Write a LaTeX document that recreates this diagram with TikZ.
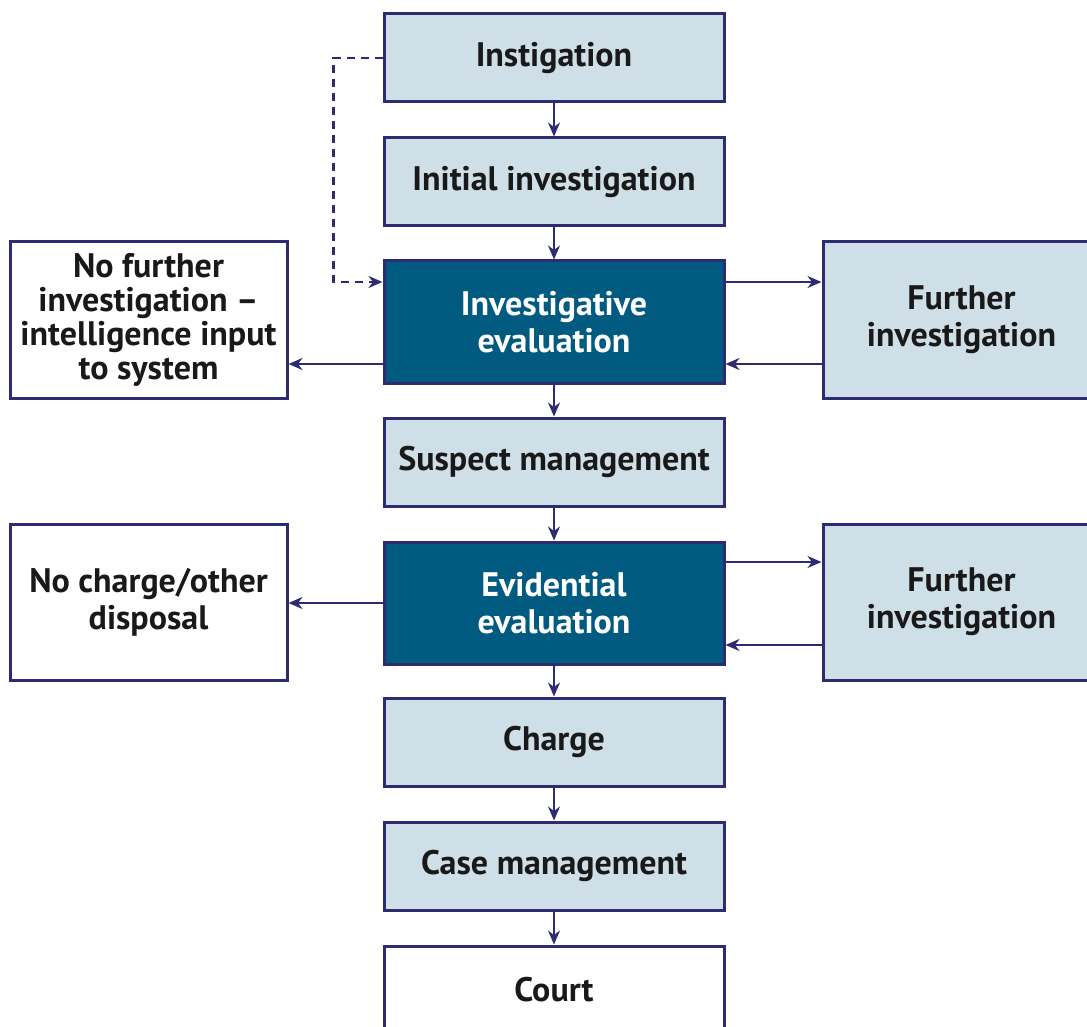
\documentclass[tikz,border=0pt]{standalone}
\usepackage{fontspec}
\setmainfont{PT Sans}
\usetikzlibrary{arrows.meta,calc}
\definecolor{navy}{HTML}{2E2B72}
\definecolor{lightbox}{HTML}{CFDFE7}
\definecolor{darkbox}{HTML}{015B81}
\tikzset{
  x=0.5pt,y=-0.5pt,
  box/.style={draw=navy,line width=1.5pt,fill=lightbox,minimum width=170pt,minimum height=44pt,
    inner sep=0pt,align=center,font=\fontsize{17}{18.5}\selectfont\bfseries,text=black!90},
  darkb/.style={box,fill=darkbox,minimum height=61pt,text=white},
  whiteb/.style={box,fill=white},
  sideb/.style={box,minimum width=138.5pt,minimum height=78pt},
  arr/.style={draw=navy,line width=1.2pt,-{Stealth[length=7pt,width=6pt]}},
}
\begin{document}
\begin{tikzpicture}
\useasboundingbox (0,0) rectangle (1087,1027);
\clip (0,0) rectangle (1087,1027);
\node[box] (ins) at (554,58) {Instigation};
\node[box] (ii) at (554,182) {Initial investigation};
\node[darkb] (ie) at (554,322) {Investigative\\evaluation};
\node[box] (sm) at (554,462) {Suspect management};
\node[darkb] (ee) at (554,603) {Evidential\\evaluation};
\node[box] (ch) at (554,742) {Charge};
\node[box] (cm) at (554,866) {Case management};
\node[whiteb] (co) at (554,990) {Court};
\node[sideb,fill=white,font=\fontsize{17}{17}\selectfont\bfseries] (nf) at (148.5,320) {No further\\investigation --\\intelligence input\\to system};
\node[sideb,fill=white] (nc) at (148.5,602) {No charge/other\\disposal};
\node[sideb] (fi1) at (961.5,320) {Further\\investigation};
\node[sideb] (fi2) at (961.5,602) {Further\\investigation};
\draw[arr] (ins) -- (ii);
\draw[arr] (ii) -- (ie);
\draw[arr] (ie) -- (sm);
\draw[arr] (sm) -- (ee);
\draw[arr] (ee) -- (ch);
\draw[arr] (ch) -- (cm);
\draw[arr] (cm) -- (co);
\draw[arr] ([yshift=20pt]ie.east) -- ([yshift=20pt]ie.east -| fi1.west);
\draw[arr] ([yshift=-21pt]ie.east -| fi1.west) -- ([yshift=-21pt]ie.east);
\draw[arr] ([yshift=-21pt]ie.west) -- ([yshift=-21pt]ie.west -| nf.east);
\draw[arr] ([yshift=20.5pt]ee.east) -- ([yshift=20.5pt]ee.east -| fi2.west);
\draw[arr] ([yshift=-21pt]ee.east -| fi2.west) -- ([yshift=-21pt]ee.east);
\draw[arr] (ee.west) -- (ee.west -| nc.east);
\draw[arr,dashed,dash pattern=on 4pt off 3pt] (ins.west) -- ++(-49,0) |- ([yshift=20pt]ie.west);
\end{tikzpicture}
\end{document}
